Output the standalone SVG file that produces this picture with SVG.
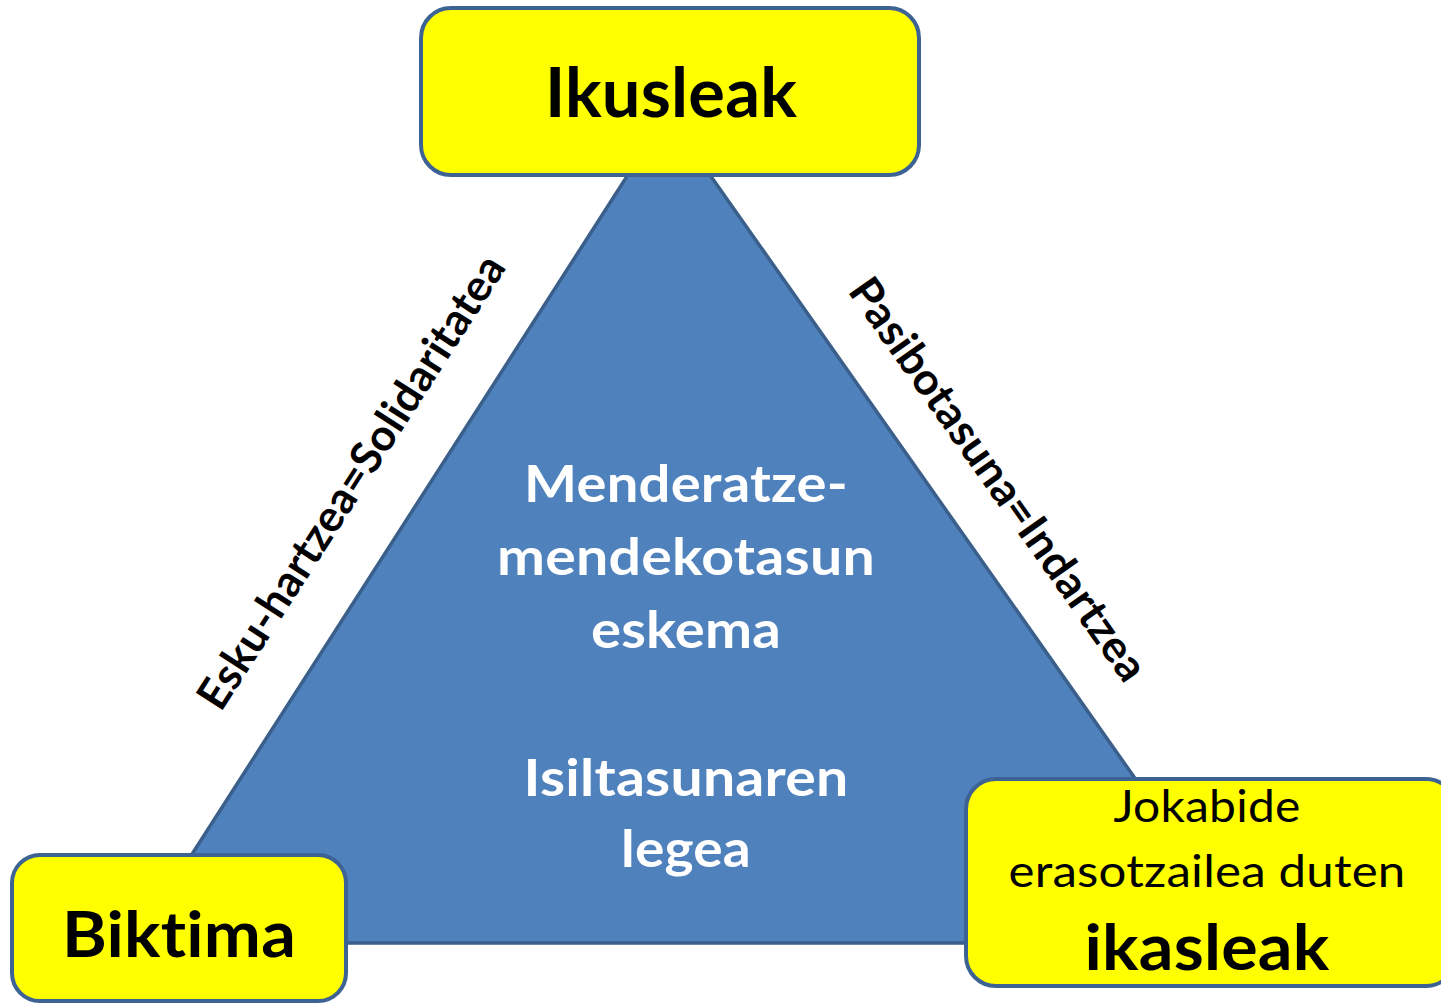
<svg xmlns="http://www.w3.org/2000/svg" width="1441" height="1004" viewBox="0 0 1441 1004">
<style>
.box{fill:#ffff00;stroke:#3c6394;stroke-width:4}
.t{font-family:Lato,"Open Sans","Liberation Sans",sans-serif;text-anchor:middle;font-variant-ligatures:none;font-feature-settings:"liga" 0,"dlig" 0,"calt" 0;letter-spacing:0.2px}
.b{font-weight:bold}
.w{fill:#ffffff}
.k{fill:#000000}
</style>
<g id="triangle">
<polygon points="667,114 135,943 1251,943" fill="#4f81bd" stroke="#3a5f8b" stroke-width="3.5"/>
<g class="t b w" font-size="52">
<text x="686" y="502" textLength="324" lengthAdjust="spacingAndGlyphs">Menderatze-</text>
<text x="686" y="575" textLength="378" lengthAdjust="spacingAndGlyphs">mendekotasun</text>
<text x="686" y="648" textLength="190" lengthAdjust="spacingAndGlyphs">eskema</text>
<text x="686" y="796" textLength="325" lengthAdjust="spacingAndGlyphs">Isiltasunaren</text>
<text x="686" y="867" textLength="130" lengthAdjust="spacingAndGlyphs">legea</text>
</g>
</g>
<g id="connectors">
<text class="t b k" font-size="44" transform="translate(364,490) rotate(-57.3)" textLength="530" lengthAdjust="spacingAndGlyphs">Esku-hartzea=Solidaritatea</text>
<text class="t b k" font-size="44" transform="translate(986,488) rotate(54.8)" textLength="482" lengthAdjust="spacingAndGlyphs">Pasibotasuna=Indartzea</text>
</g>
<g id="ikusleak">
<rect class="box" x="421" y="8" width="498" height="167" rx="30"/>
<text class="t b k" x="671" y="117" font-size="68" textLength="252" lengthAdjust="spacingAndGlyphs">Ikusleak</text>
</g>
<g id="biktima">
<rect class="box" x="12" y="855" width="334" height="146" rx="28"/>
<text class="t b k" x="179" y="957" font-size="64" textLength="234" lengthAdjust="spacingAndGlyphs">Biktima</text>
</g>
<g id="ikasleak">
<rect class="box" x="966" y="779" width="490" height="207" rx="30"/>
<text class="t k" x="1207" y="822" font-size="44" textLength="187" lengthAdjust="spacingAndGlyphs">Jokabide</text>
<text class="t k" x="1207" y="887" font-size="44" textLength="397" lengthAdjust="spacingAndGlyphs">erasotzailea duten</text>
<text class="t b k" x="1207" y="970" font-size="64" textLength="245" lengthAdjust="spacingAndGlyphs">ikasleak</text>
</g>
</svg>
